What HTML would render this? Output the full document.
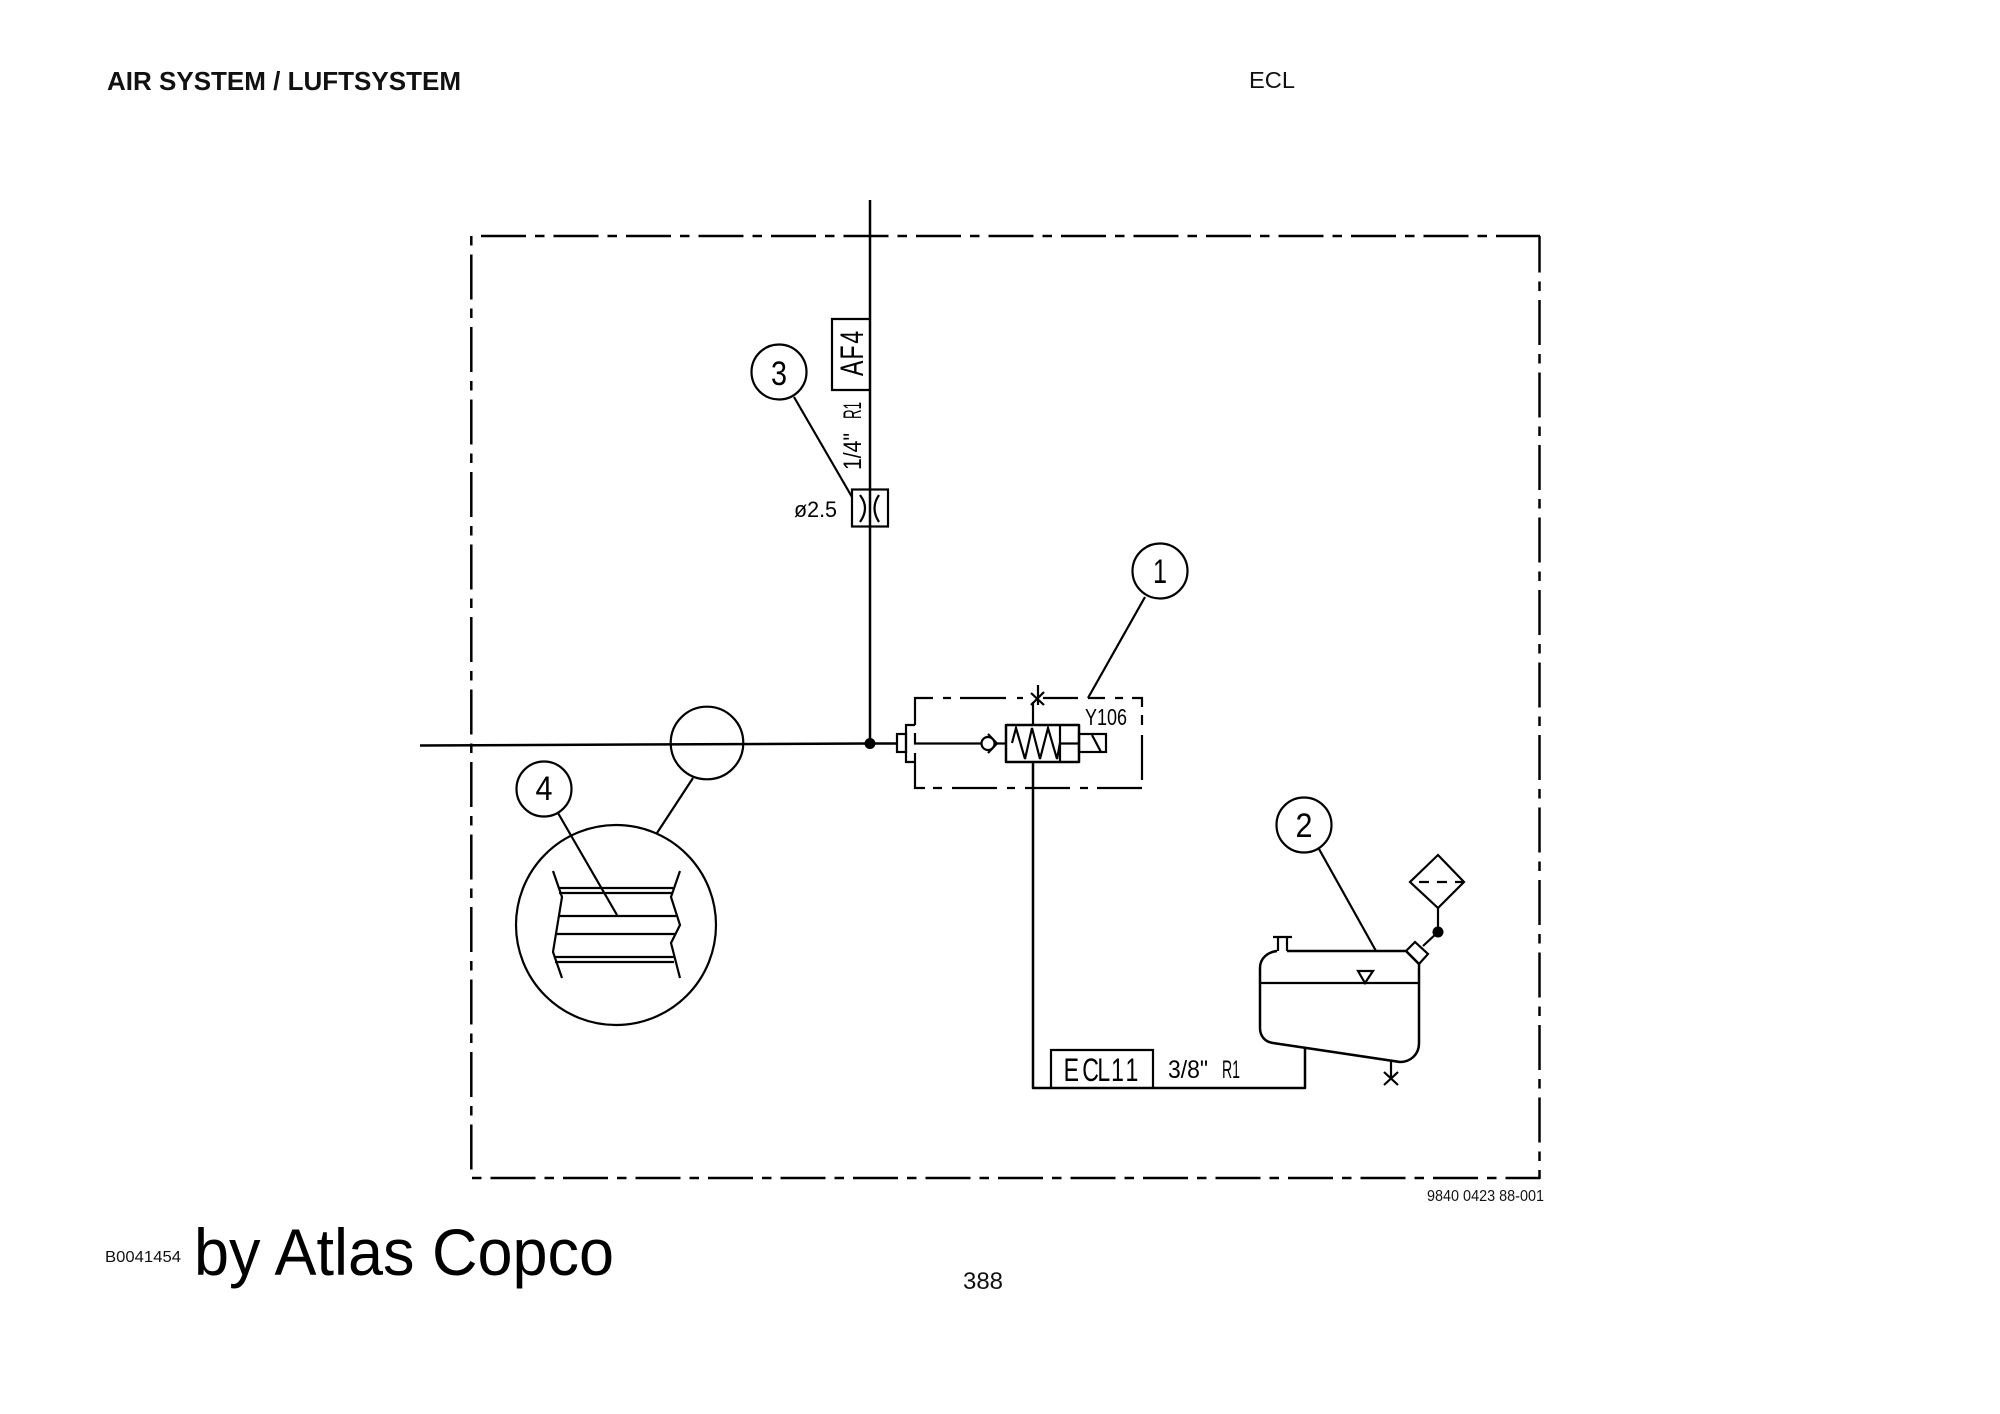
<!DOCTYPE html>
<html><head><meta charset="utf-8"><title>Air System</title>
<style>
html,body{margin:0;padding:0;background:#fff;width:2000px;height:1414px;overflow:hidden}
svg{display:block}
.l{fill:none;stroke:#000;stroke-width:2.5;stroke-linejoin:round}
.t{stroke:#000;stroke-width:2.2;fill:none}
.d{font-family:"Liberation Sans",sans-serif;fill:#000}
.h{font-family:"Liberation Sans",sans-serif;fill:#111}
</style></head><body>
<svg width="2000" height="1414" viewBox="0 0 2000 1414" xmlns="http://www.w3.org/2000/svg">
<rect width="2000" height="1414" fill="#fff"/>
<!-- header/footer -->
<text class="h" x="107" y="90" font-size="26" font-weight="bold" textLength="354" lengthAdjust="spacingAndGlyphs">AIR SYSTEM / LUFTSYSTEM</text>
<text class="h" x="1249" y="88" font-size="23" textLength="46" lengthAdjust="spacingAndGlyphs">ECL</text>
<text class="h" x="963" y="1289" font-size="24" textLength="40" lengthAdjust="spacingAndGlyphs">388</text>
<text class="h" x="105" y="1262" font-size="16" textLength="76" lengthAdjust="spacingAndGlyphs">B0041454</text>
<text class="h" x="194" y="1275" font-size="66" textLength="420" lengthAdjust="spacingAndGlyphs" style="fill:#000">by Atlas Copco</text>
<text class="h" x="1427" y="1201" font-size="15.5" textLength="117" lengthAdjust="spacingAndGlyphs">9840 0423 88-001</text>

<!-- frame -->
<g class="l" stroke-dasharray="45 9 9.5 9">
<path d="M481 236H1540"/>
<path d="M1539.5 236V1179" stroke-dashoffset="8.5"/>
<path d="M472 1178H1540" stroke-dashoffset="54"/>
<path d="M471.3 236V1171" stroke-dashoffset="54"/>
</g>

<!-- main lines -->
<path class="l" d="M870 200V743"/>
<path class="l" d="M420 745.5L870 743.5H897"/>
<circle cx="870" cy="743.5" r="5.5" fill="#000"/>

<!-- AF4 -->
<path class="t" d="M870 319H832V390H870"/>
<text class="d" transform="translate(863,376) rotate(-90) scale(.72,1)" font-size="32" x="0 23 45">AF4</text>
<text class="d" transform="translate(861,470) rotate(-90)" font-size="25" textLength="37" lengthAdjust="spacingAndGlyphs">1/4"</text>
<text class="d" transform="translate(861,419) rotate(-90)" font-size="25" textLength="17" lengthAdjust="spacingAndGlyphs">R1</text>
<circle class="t" cx="779" cy="372" r="27.5"/>
<text class="d" x="779" y="385" font-size="34" text-anchor="middle" textLength="16" lengthAdjust="spacingAndGlyphs">3</text>
<path class="t" d="M794 397L852 497"/>
<rect class="t" x="852" y="489.5" width="36" height="37"/>
<path class="t" d="M860 495Q870 508 860 522M879 495Q870 508 879 522"/>
<text class="d" x="794" y="517" font-size="22" textLength="43" lengthAdjust="spacingAndGlyphs">ø2.5</text>

<!-- valve -->
<circle class="t" cx="1160" cy="571" r="27.5"/>
<text class="d" x="1160" y="583" font-size="34" text-anchor="middle" textLength="14" lengthAdjust="spacingAndGlyphs">1</text>
<path class="t" d="M1145 597L1088 698"/>
<rect class="t" x="897" y="734" width="9" height="18"/>
<path class="t" d="M915 725H906V762H915"/>
<path class="t" d="M915 725V698H933M943 698H951M960 698H1006M1017 698H1023M1043 698H1078M1088 698H1105M1115 698H1123M1132 698H1142V707M1142 715V725M1142 735V780"/>
<path class="t" d="M915 753V788H925M933 788H942M952 788H997M1007 788H1015M1025 788H1070M1080 788H1088M1097 788H1142"/>
<path class="t" d="M915 733V743.5H982M997 743.5H1006"/>
<circle class="t" cx="988" cy="743.5" r="6.5"/>
<path class="t" d="M988 734L997 743.5L988 753"/>
<rect class="l" x="1006" y="725" width="73" height="37"/>
<path class="t" d="M1060 725V762M1060 743.5H1079"/>
<path class="t" d="M1012 743L1016 728L1025 759L1032 728L1040 759L1048 728L1057 759L1060 743"/>
<rect class="t" x="1079" y="734" width="27" height="18"/>
<path class="t" d="M1092 735L1101 752"/>
<path class="t" d="M1033 725V702M1038 685V705M1031 693L1044 705M1031 705L1044 692"/>
<path class="l" d="M1033 762V1088H1305V1048"/>
<text class="d" x="1085" y="725" font-size="23" textLength="42" lengthAdjust="spacingAndGlyphs">Y106</text>

<!-- ECL11 -->
<path class="t" d="M1051 1088V1050H1153V1088"/>
<text class="d" transform="translate(1065,1081) scale(.72,1)" font-size="32" x="-2 24 45 64 84">ECL11</text>
<text class="d" x="1168" y="1078" font-size="25" textLength="40" lengthAdjust="spacingAndGlyphs">3/8"</text>
<text class="d" x="1222" y="1078" font-size="25" textLength="18" lengthAdjust="spacingAndGlyphs">R1</text>

<!-- tank -->
<circle class="t" cx="1304" cy="825" r="27.5"/>
<text class="d" x="1304" y="837" font-size="34" text-anchor="middle" textLength="17" lengthAdjust="spacingAndGlyphs">2</text>
<path class="t" d="M1319 849L1376 951"/>
<path class="l" d="M1287 951H1406L1419 964V1043C1419 1055 1410 1062 1400 1062L1273 1043C1265 1042 1260 1036 1260 1028V968C1260 958 1268 952 1277 951"/>
<path class="t" d="M1278 951V937M1287 951V937M1273 937H1292"/>
<path class="t" d="M1260 983H1419"/>
<path class="t" d="M1358 971H1373L1365 983Z"/>
<path class="t" d="M1406 951L1415 942L1428 954L1419 964Z"/>
<path class="t" d="M1423 946L1438 932V908"/>
<circle cx="1438" cy="932" r="5.5" fill="#000"/>
<path class="t" d="M1438 855L1464 882L1438 908L1410 882Z"/>
<path class="t" d="M1419 882H1429M1437 882H1447M1455 882H1464"/>
<path class="t" d="M1391 1060V1078M1384 1072L1398 1085M1398 1072L1384 1085"/>

<!-- detail circles -->
<circle class="t" cx="707" cy="743" r="36.3"/>
<circle class="t" cx="616" cy="925" r="100"/>
<path class="t" d="M693 778L657 833"/>
<circle class="t" cx="544" cy="789" r="27.5"/>
<text class="d" x="544" y="800" font-size="34" text-anchor="middle" textLength="17" lengthAdjust="spacingAndGlyphs">4</text>
<path class="t" d="M558 813L617 915"/>
<path class="t" d="M559 888H673M559 893H673M559 916H676M557 934H675M555 957H674M555 962H674"/>
<path class="t" d="M553 871L562 897L553 952L562 978"/>
<path class="t" d="M680 871L671 897L680 925L671 943L680 978"/>
</svg>
</body></html>
